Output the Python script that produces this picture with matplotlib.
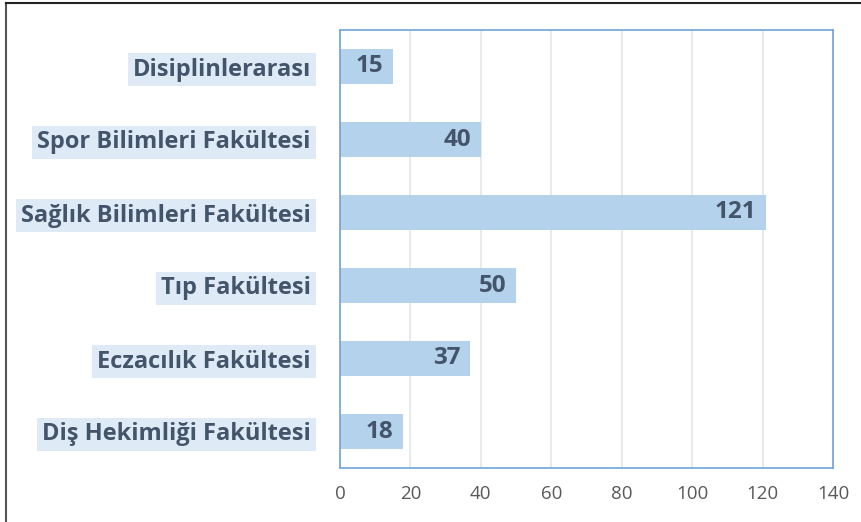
import matplotlib
matplotlib.use("Agg")

import matplotlib.pyplot as plt
from matplotlib.lines import Line2D

categories = ["Diş Hekimliği Fakültesi", "Eczacılık Fakültesi", "Tıp Fakültesi",
              "Sağlık Bilimleri Fakültesi", "Spor Bilimleri Fakültesi", "Disiplinlerarası"]
values = [18, 37, 50, 121, 40, 15]
x_ticks = [0, 20, 40, 60, 80, 100, 120, 140]

BAR_COLOR = "#B5D2EC"
LABEL_BG = "#DEEBF7"
TEXT_COLOR = "#44546A"
SPINE_COLOR = "#6FA3DA"
GRID_COLOR = "#E3E6EA"

plt.rcParams["font.family"] = ["Open Sans", "DejaVu Sans"]

fig = plt.figure(figsize=(8.62, 5.22), dpi=100)
W, H = 862, 522
ax = fig.add_axes([340 / W, 1 - 468 / H, (833 - 340) / W, (468 - 30) / H])

ys = list(range(len(categories)))
ax.barh(ys, values, height=0.48, color=BAR_COLOR, zorder=2)

for y, v in zip(ys, values):
    ax.annotate(str(v), xy=(v, y), xytext=(-7, 0), textcoords="offset points",
                ha="right", va="center", fontsize=17.5, fontweight="bold",
                color=TEXT_COLOR, zorder=3)

ax.set_xlim(0, 140)
ax.set_ylim(-0.5, len(categories) - 0.5)
ax.set_xticks(x_ticks)
ax.set_yticks(ys)
ax.set_yticklabels(categories)
ax.tick_params(axis="x", length=0, pad=12, labelsize=13.5, labelcolor="#595959")
ax.tick_params(axis="y", length=0, pad=21, labelsize=17, labelcolor=TEXT_COLOR)
for lab in ax.get_yticklabels():
    lab.set_fontweight("bold")
    lab.set_bbox(dict(facecolor=LABEL_BG, edgecolor="none", pad=3.5))

ax.grid(axis="x", color=GRID_COLOR, linewidth=1.2, zorder=0)
ax.set_axisbelow(True)
for s in ax.spines.values():
    s.set_color(SPINE_COLOR)
    s.set_linewidth(1.2)

# outer frame (left and top edges)
fig.add_artist(Line2D([6 / W, 6 / W], [0, 1 - 3 / H], color="#555555", linewidth=1.5,
                      transform=fig.transFigure))
fig.add_artist(Line2D([6 / W, 1], [1 - 3 / H, 1 - 3 / H], color="#222222", linewidth=1.5,
                      transform=fig.transFigure))

fig.savefig("out.png", dpi=100)
